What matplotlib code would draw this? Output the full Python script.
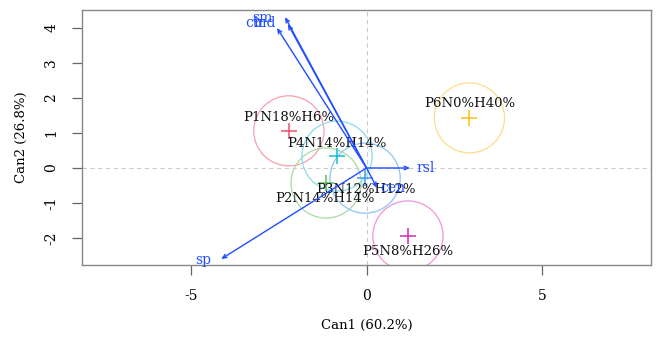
import matplotlib as mpl
mpl.use('Agg')
import matplotlib.pyplot as plt
from matplotlib.patches import Circle

# Group means (canonical scores)
groups = ['P1N18%H6%', 'P2N14%H14%', 'P3N12%H12%', 'P4N14%H14%', 'P5N8%H26%', 'P6N0%H40%']
can1 = [-2.21, -1.15, -0.04, -0.84, 1.18, 2.93]
can2 = [1.06, -0.43, -0.29, 0.34, -1.94, 1.43]
radius = [1.0, 1.0, 1.0, 1.0, 1.0, 1.0]
label_x = [-2.21, -1.17, -0.02, -0.85, 1.17, 2.93]
label_y = [1.43, -0.86, -0.62, 0.71, -2.37, 1.83]
colors = ['#f0506a', '#5cbf5c', '#3d9cf0', '#10c0d8', '#d62ab0', '#ffbf10']
circle_colors = ['#f7a0ae', '#a6dca6', '#8ec4f5', '#8adcea', '#ec96d8', '#ffdc8a']

# Structure vectors
vars_ = ['rsl', 'cen', 'sp', 'sm', 'ctr', 'ind']
vec_x = [1.24, 0.30, -4.14, -2.32, -2.24, -2.55]
vec_y = [0.0, -0.57, -2.60, 4.31, 4.11, 4.00]
vlab_x = [1.41, 0.38, -4.43, -2.66, -2.89, -2.58]
vlab_y = [0.0, -0.57, -2.62, 4.29, 4.14, 4.14]

serif = 'DejaVu Serif'
vec_col = '#1f4fff'

fig = plt.figure(figsize=(6.57, 3.37), dpi=100)
ax = fig.add_axes([0.1248, 0.2136, 0.8661, 0.7567])

ax.axhline(0, color='#cccccc', lw=0.8, ls=(0, (4, 3)), zorder=0)
ax.axvline(0, color='#cccccc', lw=0.8, ls=(0, (4, 3)), zorder=0)

for i in range(len(groups)):
    ax.add_patch(Circle((can1[i], can2[i]), radius[i], fill=False,
                        ec=circle_colors[i], lw=0.9, zorder=1))
    ax.plot(can1[i], can2[i], marker='+', color=colors[i], ms=11, mew=1.1, zorder=3)
    ax.text(label_x[i], label_y[i], groups[i], ha='center', va='center',
            fontsize=9.5, family=serif, color='#111111', zorder=4)

for i in range(len(vars_)):
    ax.annotate('', xy=(vec_x[i], vec_y[i]), xytext=(0, 0),
                arrowprops=dict(arrowstyle='->,head_length=0.3,head_width=0.13',
                                color=vec_col, lw=1.0, shrinkA=0, shrinkB=0), zorder=5)
    ha = 'left' if vec_x[i] > 0 else 'right'
    ax.text(vlab_x[i], vlab_y[i], vars_[i], ha=ha, va='center',
            fontsize=10, family=serif, color=vec_col, zorder=6)

ax.set_xlim(-8.1, 8.1)
ax.set_ylim(-2.77, 4.51)
ax.set_xticks([-5, 0, 5])
ax.set_yticks([-2, -1, 0, 1, 2, 3, 4])
ax.set_xticklabels(['-5', '0', '5'], family=serif, fontsize=10)
ax.set_yticklabels(['-2', '-1', '0', '1', '2', '3', '4'], family=serif,
                   fontsize=10, rotation=90, va='center')
ax.tick_params(length=7, width=0.9, color='#666666', pad=10)
for s in ax.spines.values():
    s.set_color('#888888')
    s.set_linewidth(1.0)

ax.set_xlabel('Can1 (60.2%)', family=serif, fontsize=9.5, labelpad=12)
ax.set_ylabel('Can2 (26.8%)', family=serif, fontsize=9.5, labelpad=12)

fig.savefig('out.png', dpi=100)
